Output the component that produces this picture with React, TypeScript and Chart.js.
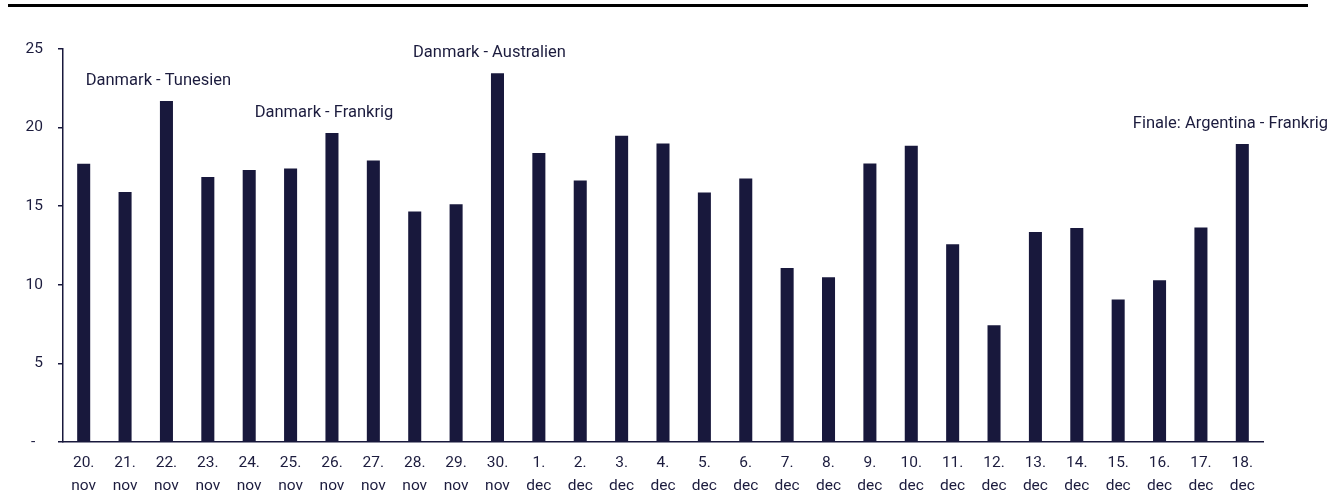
import React, { useEffect, useRef } from 'react';
import { Chart, registerables } from 'chart.js';

Chart.register(...registerables);

const days = ['20.', '21.', '22.', '23.', '24.', '25.', '26.', '27.', '28.', '29.', '30.', '1.', '2.', '3.', '4.', '5.', '6.', '7.', '8.', '9.', '10.', '11.', '12.', '13.', '14.', '15.', '16.', '17.', '18.'];
const months = ['nov', 'nov', 'nov', 'nov', 'nov', 'nov', 'nov', 'nov', 'nov', 'nov', 'nov', 'dec', 'dec', 'dec', 'dec', 'dec', 'dec', 'dec', 'dec', 'dec', 'dec', 'dec', 'dec', 'dec', 'dec', 'dec', 'dec', 'dec', 'dec'];
const values = [17.7, 15.9, 21.7, 16.85, 17.3, 17.4, 19.65, 17.9, 14.66, 15.13, 23.45, 18.38, 16.64, 19.48, 18.99, 15.87, 16.76, 11.07, 10.48, 17.72, 18.84, 12.58, 7.42, 13.36, 13.62, 9.06, 10.29, 13.64, 18.95];
const yTickValues = [0, 5, 10, 15, 20, 25];
const yTickLabels = ['-  ', '5', '10', '15', '20', '25'];
const annotationIndex = [2, 6, 10, 28];
const annotationTexts = ['Danmark - Tunesien', 'Danmark - Frankrig', 'Danmark - Australien', 'Finale: Argentina - Frankrig'];

const NAVY = '#18183c';
const TEXT = '#1c1c3e';
const FONT = 'Roboto';

const annotationPlugin = {
  id: 'matchAnnotations',
  afterDatasetsDraw(chart: any) {
    const meta = chart.getDatasetMeta(0);
    const ctx = chart.ctx;
    ctx.save();
    ctx.font = `16.5px ${FONT}`;
    ctx.fillStyle = TEXT;
    ctx.textAlign = 'center';
    ctx.textBaseline = 'alphabetic';
    annotationIndex.forEach((idx, i) => {
      const el = meta.data[idx];
      if (!el) return;
      const text = annotationTexts[i];
      const w = ctx.measureText(text).width;
      let cx = el.x - 8;
      const maxRight = chart.width - 4;
      if (cx + w / 2 > maxRight) cx = maxRight - w / 2;
      ctx.fillText(text, cx, el.y - 16);
    });
    ctx.restore();
  },
};

export default function App() {
  const ref = useRef<HTMLCanvasElement>(null);
  useEffect(() => {
    if (!ref.current) return;
    const chart = new Chart(ref.current, {
      type: 'bar',
      data: {
        labels: days.map((d, i) => [d, months[i]]),
        datasets: [
          {
            data: values,
            backgroundColor: NAVY,
            borderWidth: 0,
            categoryPercentage: 1,
            barPercentage: 0.315,
          },
        ],
      },
      options: {
        animation: false,
        responsive: false,
        maintainAspectRatio: false,
        layout: { padding: { top: 49, right: 69, left: 0, bottom: 0 } },
        plugins: { legend: { display: false }, tooltip: { enabled: false }, title: { display: false } },
        scales: {
          x: {
            grid: { display: false, drawTicks: false },
            border: { display: true, color: NAVY, width: 1.5 },
            ticks: {
              color: TEXT,
              font: { family: FONT, size: 15.5, lineHeight: 1.45 },
              padding: 10,
              maxRotation: 0,
              autoSkip: false,
            },
            afterFit: (s: any) => {
              s.height = 53;
            },
          },
          y: {
            min: 0,
            max: 25,
            grid: { display: true, drawOnChartArea: false, drawTicks: true, tickLength: 5, color: NAVY, lineWidth: 1.5 },
            border: { display: true, color: NAVY, width: 1.5 },
            ticks: {
              stepSize: 5,
              color: TEXT,
              font: { family: FONT, size: 15.5 },
              padding: 15,
              callback: (v: any) => {
                const k = yTickValues.indexOf(Number(v));
                return k >= 0 ? yTickLabels[k] : '';
              },
            },
            afterFit: (s: any) => {
              s.width = 63;
            },
          },
        },
      },
      plugins: [annotationPlugin],
    });
    return () => chart.destroy();
  }, []);
  return (
    <div style={{ position: 'fixed', left: 0, top: 0, width: 1332, height: 495, background: '#fff' }}>
      <div style={{ position: 'absolute', left: 8, top: 4, width: 1300, height: 2.5, background: '#000' }} />
      <canvas ref={ref} width={1332} height={495} style={{ position: 'absolute', left: 0, top: 0, width: 1332, height: 495 }} />
    </div>
  );
}
